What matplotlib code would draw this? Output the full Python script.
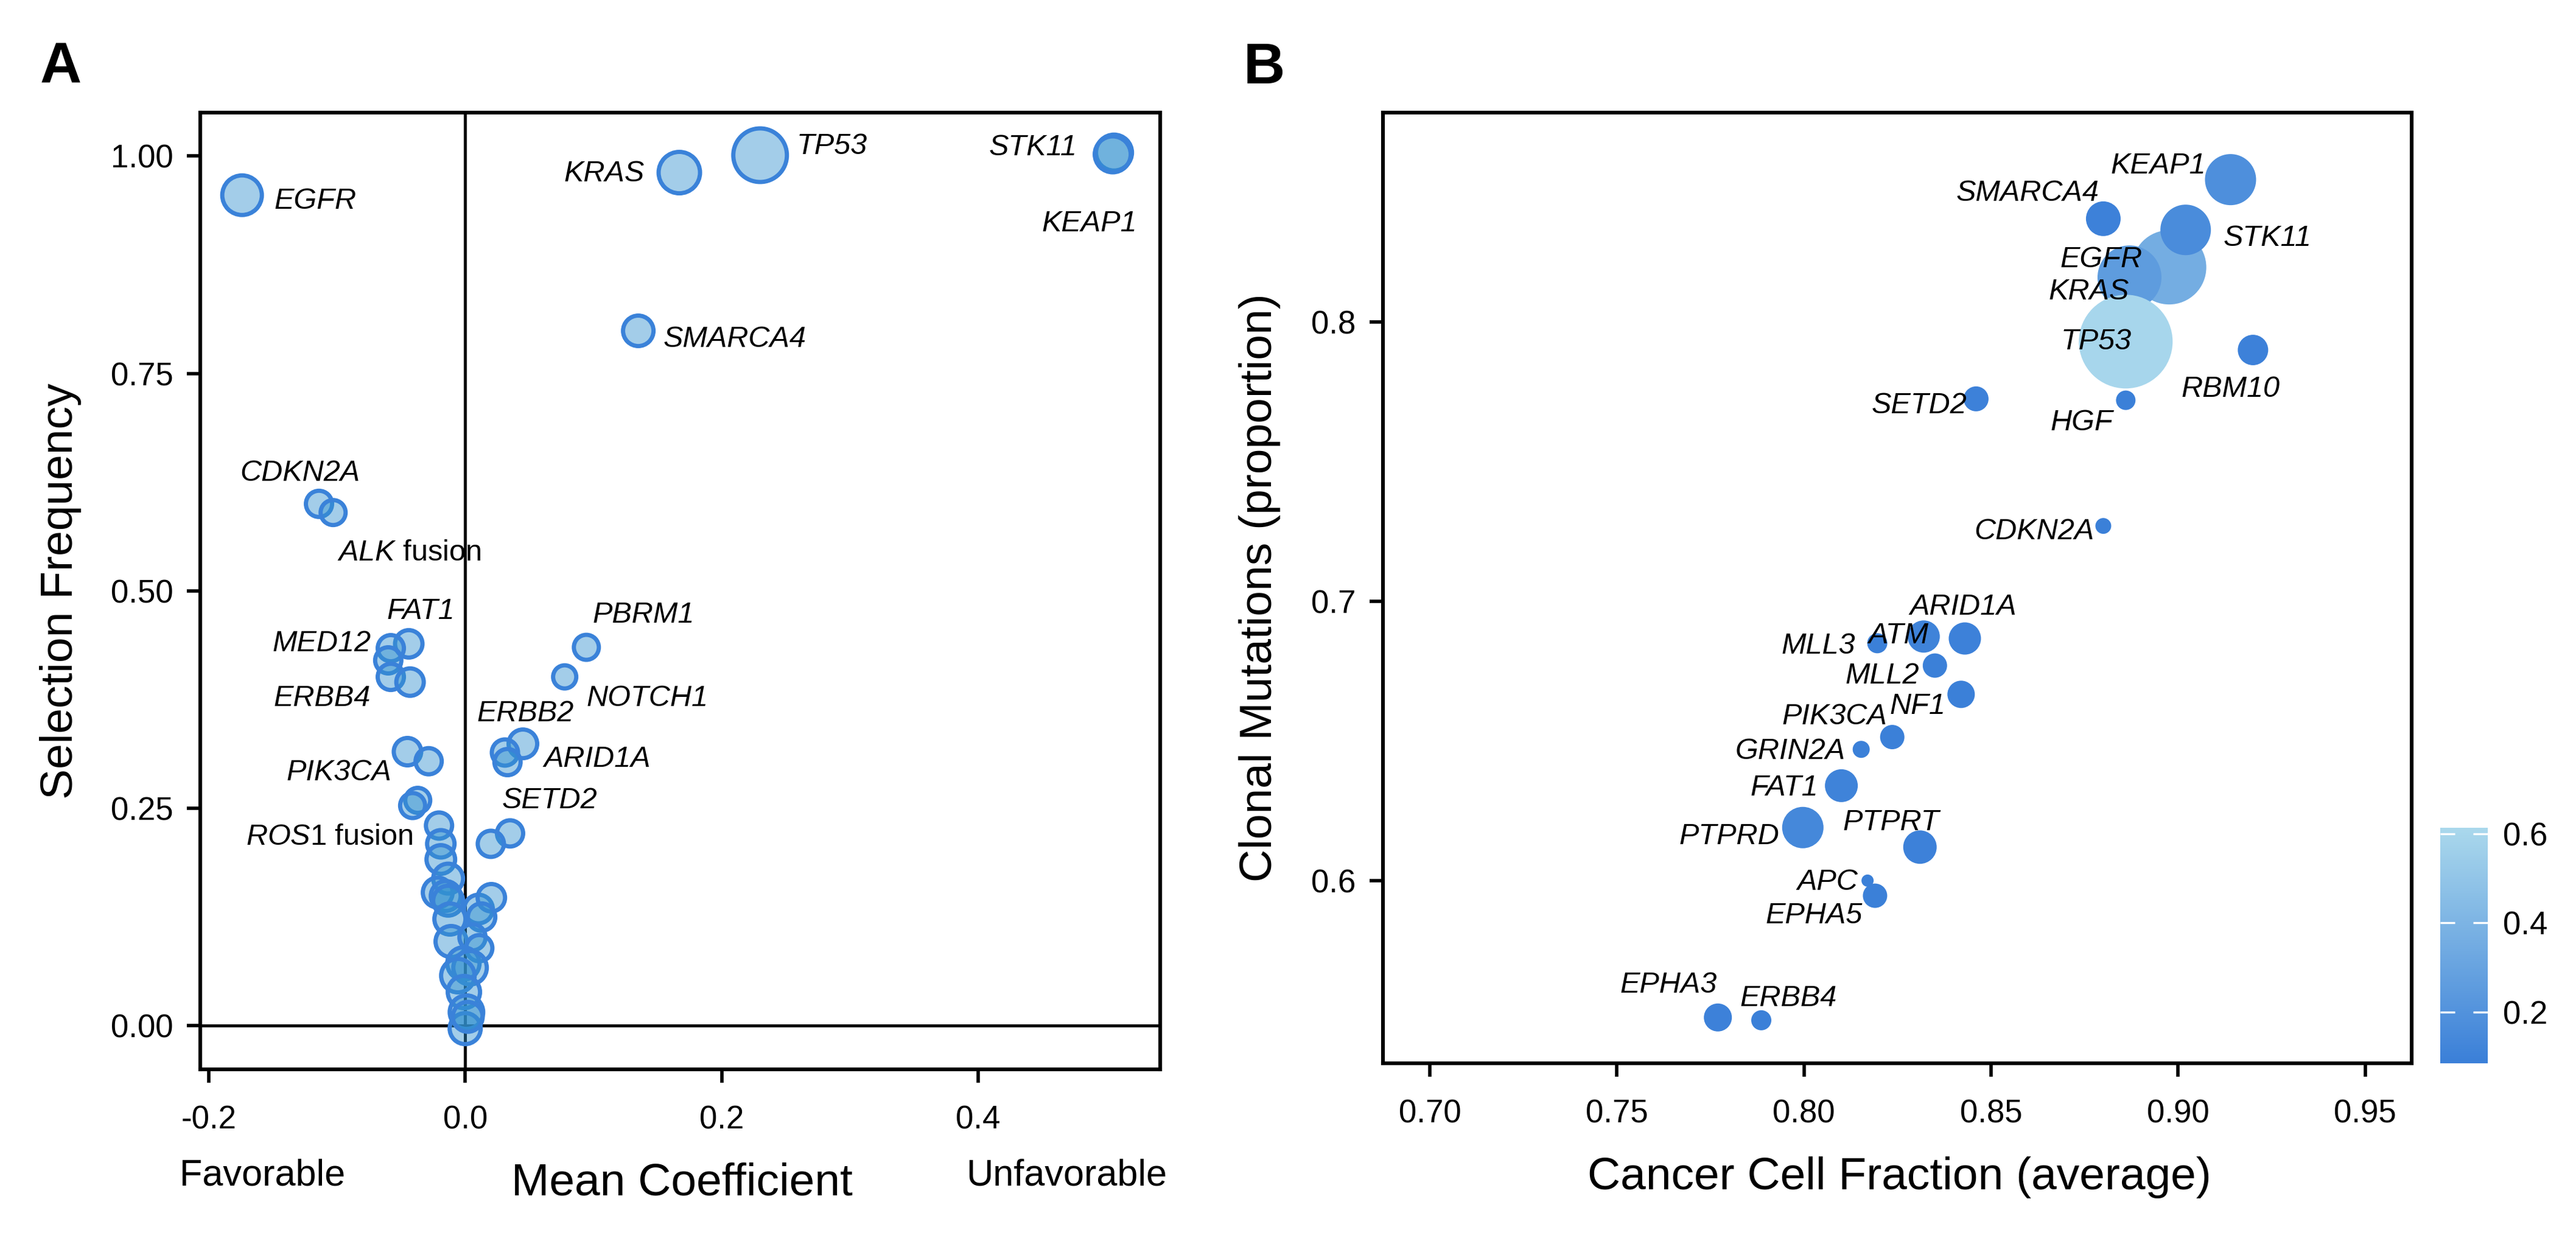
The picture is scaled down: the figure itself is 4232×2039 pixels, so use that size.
import matplotlib
matplotlib.use("Agg")
import matplotlib.pyplot as plt
from matplotlib.colors import LinearSegmentedColormap, Normalize, to_rgba
import numpy as np

# ---------------- DATA ----------------
# Panel A: mean coefficient vs selection frequency
a_gene = ["KRAS", "EGFR", "TP53", "STK11", "KEAP1", "SMARCA4", "CDKN2A", "ALK",
          "FAT1", "MED12", "", "ERBB4", "", "PBRM1", "NOTCH1",
          "ERBB2", "ARID1A", "", "PIK3CA", "", "SETD2", "", "ROS1", "",
          "", "", "", "", "", "", "", "", "", "", "", "", "", "", "", "", "", "", "", "", ""]
a_coef = [0.167, -0.174, 0.230, 0.506, 0.505, 0.135, -0.114, -0.103,
          -0.044, -0.058, -0.060, -0.058, -0.043, 0.0945, 0.0776,
          0.045, 0.031, 0.033, -0.045, -0.0285, 0.035, 0.020, -0.037, -0.041,
          -0.0204, -0.019, -0.019, -0.0133, -0.0214, -0.0152, -0.0133, -0.0119, -0.011,
          0.0104, 0.0204, 0.0128, 0.0057, 0.011, -0.0014, 0.0038, -0.0057, -0.001,
          0.001, 0.0, 0.002]
a_freq = [0.981, 0.955, 1.001, 1.004, 1.002, 0.799, 0.600, 0.590,
          0.439, 0.434, 0.420, 0.401, 0.395, 0.435, 0.401,
          0.324, 0.314, 0.303, 0.315, 0.304, 0.221, 0.209, 0.259, 0.253,
          0.230, 0.209, 0.191, 0.169, 0.153, 0.149, 0.1436, 0.1225, 0.0966,
          0.134, 0.147, 0.1247, 0.1015, 0.089, 0.0714, 0.0665, 0.0574, 0.0385,
          0.0154, -0.0035, 0.010]
a_size = [75, 72, 95, 66, 66, 57, 50, 48,
          52, 50, 50, 50, 52, 48, 45,
          54, 50, 50, 52, 50, 50, 50, 48, 48,
          50, 52, 54, 56, 56, 56, 56, 58, 58,
          54, 52, 52, 50, 50, 60, 62, 62, 60,
          62, 58, 56]

# Panel B: cancer cell fraction vs clonal mutations
b_gene = ["KRAS", "EGFR", "KEAP1", "STK11", "SMARCA4", "TP53", "RBM10", "SETD2", "HGF",
          "CDKN2A", "ARID1A", "ATM", "MLL3", "MLL2", "NF1", "PIK3CA", "GRIN2A", "FAT1",
          "PTPRD", "PTPRT", "APC", "EPHA5", "EPHA3", "ERBB4"]
b_ccf = [0.8976, 0.887, 0.914, 0.902, 0.880, 0.886, 0.920, 0.846, 0.886,
         0.880, 0.843, 0.832, 0.8196, 0.835, 0.842, 0.8236, 0.8153, 0.810,
         0.7997, 0.831, 0.817, 0.819, 0.777, 0.7886]
b_clonal = [0.8196, 0.816, 0.851, 0.833, 0.837, 0.793, 0.790, 0.7725, 0.772,
            0.727, 0.6867, 0.6874, 0.685, 0.677, 0.6667, 0.6514, 0.647, 0.634,
            0.619, 0.612, 0.600, 0.5946, 0.551, 0.550]
b_color = [0.36, 0.255, 0.18, 0.16, 0.10, 0.60, 0.10, 0.10, 0.09,
           0.09, 0.10, 0.11, 0.09, 0.09, 0.09, 0.09, 0.09, 0.11,
           0.14, 0.10, 0.09, 0.09, 0.10, 0.09]
b_size = [122, 105, 84, 83, 57, 154, 50, 41, 32,
          26, 53, 53, 33, 40, 45, 40, 28, 54,
          68, 55, 20, 40, 46, 33]

a_xticks = [-0.2, 0.0, 0.2, 0.4]
a_xticklabels = ["-0.2", "0.0", "0.2", "0.4"]
a_yticks = [0.0, 0.25, 0.5, 0.75, 1.0]
a_yticklabels = ["0.00", "0.25", "0.50", "0.75", "1.00"]
b_xticks = [0.70, 0.75, 0.80, 0.85, 0.90, 0.95]
b_xticklabels = ["0.70", "0.75", "0.80", "0.85", "0.90", "0.95"]
b_yticks = [0.6, 0.7, 0.8]
b_yticklabels = ["0.6", "0.7", "0.8"]
cb_ticks = [0.2, 0.4, 0.6]
cb_ticklabels = ["0.2", "0.4", "0.6"]

# ---------------- STYLE / LAYOUT ----------------
plt.rcParams['font.family'] = ['Liberation Sans', 'DejaVu Sans']
plt.rcParams['mathtext.fontset'] = 'custom'
plt.rcParams['mathtext.rm'] = 'Liberation Sans'
plt.rcParams['mathtext.it'] = 'Liberation Sans:italic'

W, H, DPI = 4232, 2039, 200
fig = plt.figure(figsize=(W / DPI, H / DPI), dpi=DPI)

EDGE = '#3A82D9'
FILL = to_rgba('#3392D0', 0.45)
cmap = LinearSegmentedColormap.from_list('blues', ['#3A7FD8', '#AAD8EC'])
norm = Normalize(vmin=0.0854, vmax=0.6136)

TICK_FS = 19
LAB_FS = 27
GENE_FS = 17.5
px2pt = 72.0 / DPI


def style_axes(ax):
    for sp in ax.spines.values():
        sp.set_linewidth(2.2)
        sp.set_color('black')
    ax.tick_params(axis='both', direction='out', length=8, width=2, labelsize=TICK_FS, color='black')
    ax.tick_params(axis='x', pad=13)
    ax.tick_params(axis='y', pad=8)


def gene_label(ax, txt, x, y, ha):
    ax.annotate(txt, xy=(x, y), xytext=(0, -0.36 * GENE_FS), textcoords='offset points',
                ha=ha, va='baseline', fontsize=GENE_FS, fontstyle='italic', zorder=5)

# ---- Panel A ----
axA = fig.add_axes([329 / W, 1 - 1757 / H, 1577 / W, 1572 / H])
style_axes(axA)
axA.set_xlim(-0.2066, 0.542)
axA.set_ylim(-0.0504, 1.050)
axA.axhline(0, color='black', lw=1.8, zorder=1)
axA.axvline(0, color='black', lw=1.8, zorder=1)
lwA = 2.5
sA = [((d - lwA / px2pt) * px2pt) ** 2 for d in a_size]
axA.scatter(a_coef, a_freq, s=sA, facecolors=[FILL] * len(a_coef), edgecolors=EDGE,
            linewidths=lwA, zorder=3)
axA.set_xticks(a_xticks)
axA.set_xticklabels(a_xticklabels)
axA.set_yticks(a_yticks)
axA.set_yticklabels(a_yticklabels)

labelsA = [("EGFR", -0.1487, 0.952, 'left'), ("KRAS", 0.140, 0.983, 'right'),
           ("TP53", 0.2584, 1.015, 'left'), ("STK11", 0.477, 1.013, 'right'),
           ("KEAP1", 0.524, 0.926, 'right'), ("SMARCA4", 0.1544, 0.793, 'left'),
           ("CDKN2A", -0.1758, 0.639, 'left'), ("FAT1", -0.0347, 0.48, 'center'),
           ("MED12", -0.0736, 0.443, 'right'), ("ERBB4", -0.0736, 0.380, 'right'),
           ("PBRM1", 0.0993, 0.476, 'left'), ("NOTCH1", 0.0945, 0.380, 'left'),
           ("ERBB2", 0.009, 0.362, 'left'), ("ARID1A", 0.0613, 0.310, 'left'),
           ("SETD2", 0.0285, 0.262, 'left'), ("PIK3CA", -0.0575, 0.294, 'right')]
for t, x, y, ha in labelsA:
    gene_label(axA, t, x, y, ha)
axA.annotate(r'$\mathit{ALK}$ fusion', xy=(-0.0998, 0.547), xytext=(0, -0.36 * GENE_FS),
             textcoords='offset points', ha='left', va='baseline', fontsize=GENE_FS, zorder=5)
axA.annotate(r'$\mathit{ROS1}$ fusion', xy=(-0.0409, 0.220), xytext=(0, -0.36 * GENE_FS),
             textcoords='offset points', ha='right', va='baseline', fontsize=GENE_FS, zorder=5)

fig.text(1120 / W, 1 - 1964 / H, "Mean Coefficient", ha='center', va='baseline', fontsize=LAB_FS)
fig.text(295 / W, 1 - 1948 / H, "Favorable", ha='left', va='baseline', fontsize=22)
fig.text(1917 / W, 1 - 1948 / H, "Unfavorable", ha='right', va='baseline', fontsize=22)
fig.text(100 / W, 1 - 971 / H, "Selection Frequency", rotation=90, ha='center', va='center',
         fontsize=LAB_FS)
fig.text(66 / W, 1 - 137 / H, "A", ha='left', va='baseline', fontsize=34, fontweight='bold')

# ---- Panel B ----
axB = fig.add_axes([2272 / W, 1 - 1747 / H, 1690 / W, 1562 / H])
style_axes(axB)
axB.set_xlim(0.6875, 0.9624)
axB.set_ylim(0.5346, 0.875)
sB = [(d * px2pt) ** 2 for d in b_size]
sc = axB.scatter(b_ccf, b_clonal, s=sB, c=b_color, cmap=cmap, norm=norm,
                 edgecolors='none', zorder=3)
axB.set_xticks(b_xticks)
axB.set_xticklabels(b_xticklabels)
axB.set_yticks(b_yticks)
axB.set_yticklabels(b_yticklabels)

labelsB = [("KEAP1", 0.9074, 0.857, 'right'), ("SMARCA4", 0.8789, 0.8473, 'right'),
           ("STK11", 0.9121, 0.831, 'left'), ("EGFR", 0.8905, 0.8235, 'right'),
           ("KRAS", 0.8869, 0.812, 'right'), ("TP53", 0.8875, 0.794, 'right'),
           ("RBM10", 0.914, 0.777, 'center'), ("SETD2", 0.8436, 0.7712, 'right'),
           ("HGF", 0.8825, 0.7651, 'right'), ("CDKN2A", 0.8776, 0.726, 'right'),
           ("ARID1A", 0.8282, 0.699, 'left'), ("ATM", 0.8252, 0.6887, 'center'),
           ("MLL3", 0.8137, 0.685, 'right'), ("MLL2", 0.8308, 0.6745, 'right'),
           ("NF1", 0.8378, 0.6636, 'right'), ("PIK3CA", 0.8222, 0.6597, 'right'),
           ("GRIN2A", 0.8111, 0.6473, 'right'), ("FAT1", 0.8038, 0.6342, 'right'),
           ("PTPRD", 0.7934, 0.6168, 'right'), ("PTPRT", 0.8233, 0.6218, 'center'),
           ("APC", 0.8145, 0.6006, 'right'), ("EPHA5", 0.8156, 0.5885, 'right'),
           ("EPHA3", 0.7638, 0.5638, 'center'), ("ERBB4", 0.7958, 0.559, 'center')]
for t, x, y, ha in labelsB:
    gene_label(axB, t, x, y, ha)

fig.text(3120 / W, 1 - 1954 / H, "Cancer Cell Fraction (average)", ha='center', va='baseline',
         fontsize=LAB_FS)
fig.text(2070 / W, 1 - 966 / H, "Clonal Mutations (proportion)", rotation=90, ha='center',
         va='center', fontsize=LAB_FS)
fig.text(2043 / W, 1 - 137 / H, "B", ha='left', va='baseline', fontsize=34, fontweight='bold')

# ---- Colorbar ----
cax = fig.add_axes([4009 / W, 1 - 1747 / H, 78 / W, 387 / H])
cb = fig.colorbar(sc, cax=cax)
cb.outline.set_visible(False)
cb.set_ticks(cb_ticks)
cb.set_ticklabels(cb_ticklabels)
cax.minorticks_off()
cax.tick_params(which='both', direction='in', length=8.8, width=1.2, color='white',
                left=True, right=True, labelleft=False, labelright=True,
                labelsize=TICK_FS, labelcolor='black', pad=9)

fig.savefig("out.png", dpi=DPI, facecolor='white')
